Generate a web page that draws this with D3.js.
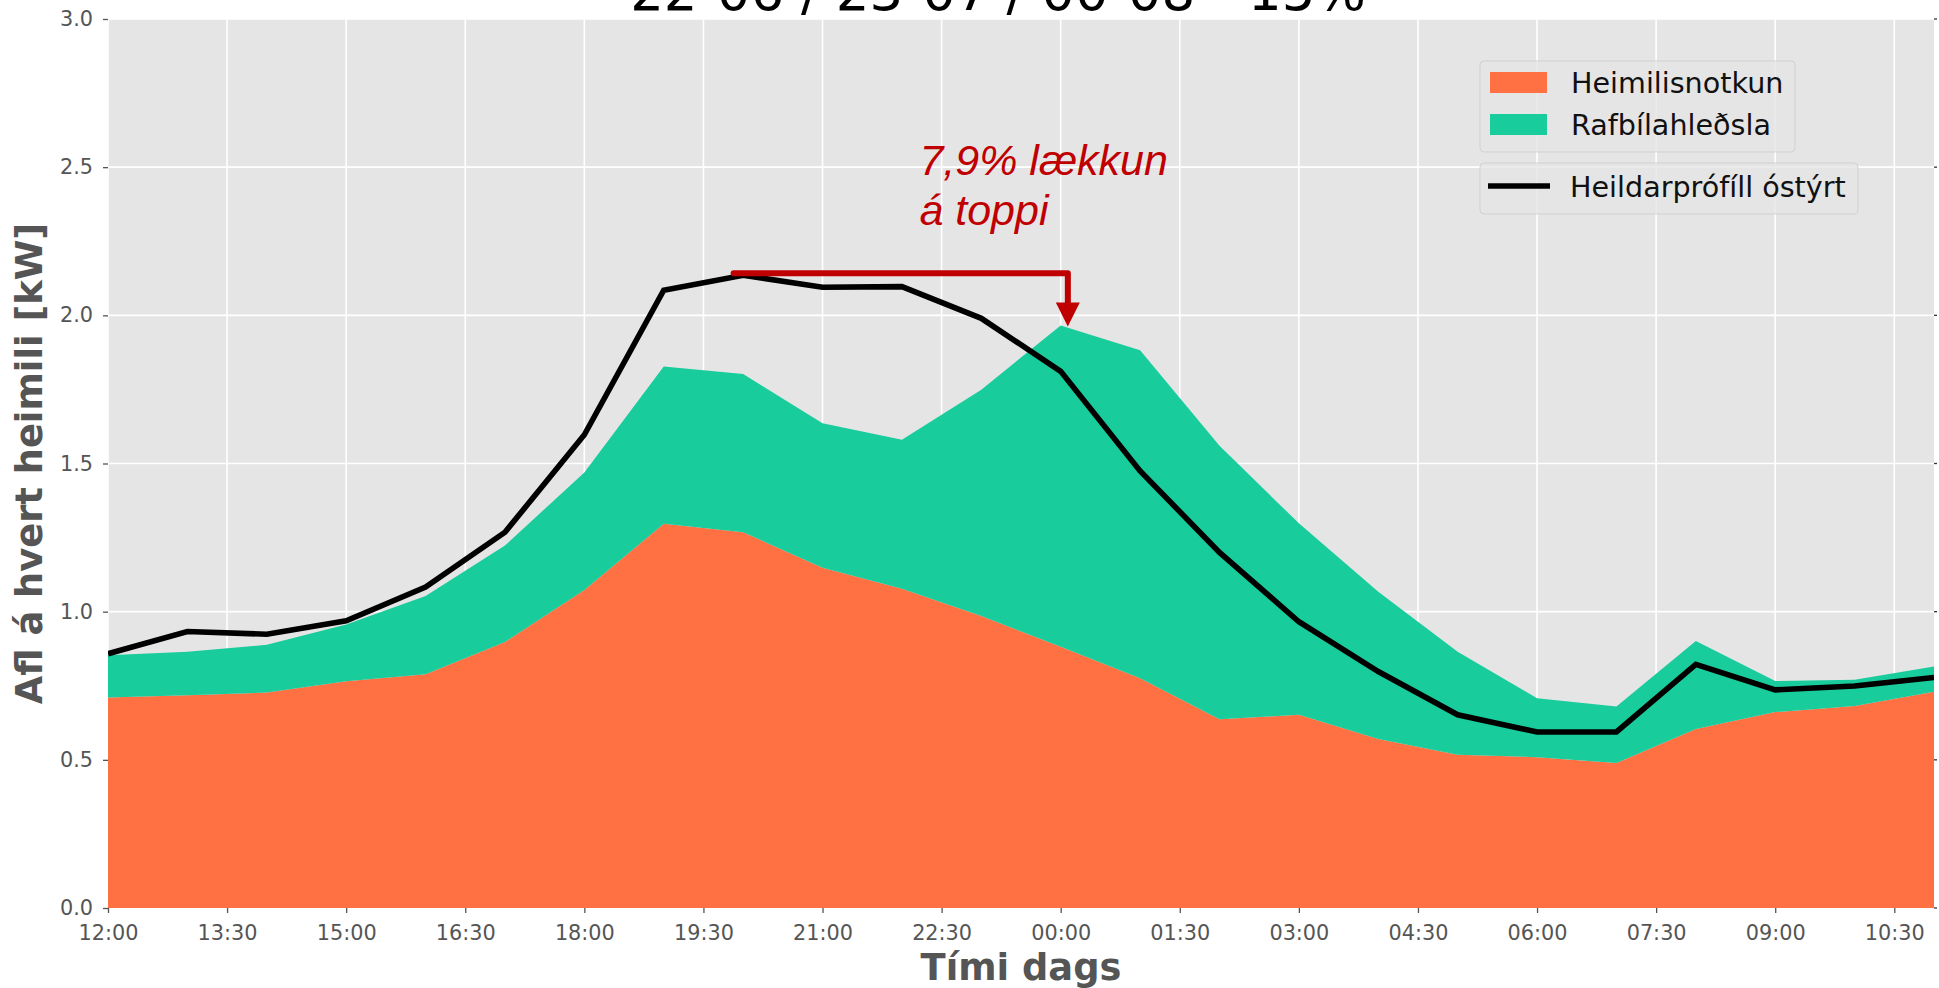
<!DOCTYPE html>
<html>
<head>
<meta charset="utf-8">
<script src="https://cdn.jsdelivr.net/npm/d3@7/dist/d3.min.js"></script>
<style>
  body { margin: 0; background: #fff; }
  text { font-family: "DejaVu Sans", sans-serif; }
</style>
</head>
<body>
<div id="chart"></div>
<script>
// hours after 12:00 (one point per hour)
var hours = [0, 1, 2, 3, 4, 5, 6, 7, 8, 9, 10, 11, 12, 13, 14, 15, 16, 17, 18, 19, 20, 21, 22, 23];

// household use [kW]
var heimilisnotkun = [0.710, 0.718, 0.727, 0.765, 0.789, 0.898, 1.073, 1.297, 1.268, 1.148, 1.077, 0.985,
                      0.882, 0.775, 0.637, 0.652, 0.570, 0.517, 0.509, 0.489, 0.604, 0.661, 0.682, 0.730];

// EV charging, stacked on top [kW]
var rafbilahledsla = [0.143, 0.147, 0.161, 0.192, 0.264, 0.325, 0.397, 0.530, 0.534, 0.488, 0.503, 0.764,
                      1.084, 1.107, 0.923, 0.646, 0.497, 0.348, 0.199, 0.191, 0.297, 0.105, 0.088, 0.085];

// total profile, uncontrolled [kW]
var heildarprofill = [0.858, 0.933, 0.924, 0.969, 1.083, 1.268, 1.597, 2.085, 2.135, 2.095, 2.097, 1.990,
                      1.811, 1.475, 1.200, 0.966, 0.798, 0.652, 0.594, 0.594, 0.822, 0.736, 0.749, 0.778];

var tickHours = [0, 1.5, 3, 4.5, 6, 7.5, 9, 10.5, 12, 13.5, 15, 16.5, 18, 19.5, 21, 22.5];
var tickLabels = ["12:00", "13:30", "15:00", "16:30", "18:00", "19:30", "21:00", "22:30",
                  "00:00", "01:30", "03:00", "04:30", "06:00", "07:30", "09:00", "10:30"];
var yTicks = [0, 0.5, 1, 1.5, 2, 2.5, 3];

var seriesNames = ["Heimilisnotkun", "Rafbílahleðsla"];
var lineName = "Heildarprófíll óstýrt";
var colors = ["#FF7043", "#18CC9C"];

// peak reduction annotation: start hour, end hour, level, arrow tip
var peakArrow = [7.88, 12.09, 2.142, 1.962];
var peakText = ["7,9% lækkun", "á toppi"];

var title = "22-06 / 23-07 / 00-08 - 15%";

// set the dimensions and margins of the graph
var margin = {top: 19, right: 5, bottom: 80, left: 108},
    width = 1939 - margin.left - margin.right,
    height = 988 - margin.top - margin.bottom;

var root = d3.select("#chart")
  .append("svg")
    .attr("width", 1939)
    .attr("height", 988);

var svg = root.append("g")
    .attr("transform", "translate(" + margin.left + "," + margin.top + ")");

var x = d3.scaleLinear().domain([0, 23]).range([0, width]);
var y = d3.scaleLinear().domain([0, 3]).range([height, 0]);

// background + grid
svg.append("rect")
  .attr("width", width)
  .attr("height", height)
  .attr("fill", "#E5E5E5");

svg.append("clipPath").attr("id", "clip")
  .append("rect").attr("width", width).attr("height", height);

svg.selectAll(".vgrid")
  .data(tickHours)
  .enter().append("line")
    .attr("x1", function(d) { return x(d); })
    .attr("x2", function(d) { return x(d); })
    .attr("y1", 0).attr("y2", height)
    .attr("stroke", "#fff").attr("stroke-width", 1.6);

svg.selectAll(".hgrid")
  .data(yTicks)
  .enter().append("line")
    .attr("x1", 0).attr("x2", width)
    .attr("y1", function(d) { return y(d); })
    .attr("y2", function(d) { return y(d); })
    .attr("stroke", "#fff").attr("stroke-width", 1.6);

// stacked areas
var table = hours.map(function(h, i) {
  return {hour: h, Heimilisnotkun: heimilisnotkun[i], "Rafbílahleðsla": rafbilahledsla[i]};
});
var stacked = d3.stack().keys(seriesNames)(table);

var area = d3.area()
  .x(function(d) { return x(d.data.hour); })
  .y0(function(d) { return y(d[0]); })
  .y1(function(d) { return y(d[1]); });

svg.append("g").attr("clip-path", "url(#clip)")
  .selectAll("path")
  .data(stacked)
  .enter().append("path")
    .attr("d", area)
    .attr("fill", function(d, i) { return colors[i]; });

// total line
var line = d3.line()
  .x(function(d, i) { return x(hours[i]); })
  .y(function(d) { return y(d); });

svg.append("path")
  .datum(heildarprofill)
  .attr("clip-path", "url(#clip)")
  .attr("d", line)
  .attr("fill", "none")
  .attr("stroke", "#000")
  .attr("stroke-width", 5.6)
  .attr("stroke-linejoin", "miter");

// axes
var xAxis = svg.append("g")
  .attr("transform", "translate(0," + height + ")")
  .call(d3.axisBottom(x).tickValues(tickHours)
        .tickFormat(function(d, i) { return tickLabels[i]; })
        .tickSize(5).tickPadding(12));
var yAxis = svg.append("g")
  .call(d3.axisLeft(y).tickValues(yTicks).tickFormat(d3.format(".1f"))
        .tickSize(5).tickPadding(10));

[xAxis, yAxis].forEach(function(a) {
  a.select(".domain").remove();
  a.selectAll("line").attr("stroke", "#555").attr("stroke-width", 1.3);
  a.selectAll("text")
    .attr("fill", "#555")
    .style("font-size", "20.8px")
    .style("font-family", "DejaVu Sans");
});

// small ticks on the right edge
svg.selectAll(".rtick")
  .data(yTicks)
  .enter().append("line")
    .attr("x1", width).attr("x2", width + 3)
    .attr("y1", function(d) { return y(d); })
    .attr("y2", function(d) { return y(d); })
    .attr("stroke", "#333").attr("stroke-width", 1.3);

// axis labels
root.append("text")
  .attr("x", margin.left + width / 2)
  .attr("y", 980)
  .attr("text-anchor", "middle")
  .attr("fill", "#555")
  .style("font-size", "36.8px")
  .style("font-weight", "bold")
  .text("Tími dags");

root.append("text")
  .attr("transform", "translate(42," + (margin.top + height / 2) + ")rotate(-90)")
  .attr("text-anchor", "middle")
  .attr("fill", "#555")
  .style("font-size", "36.8px")
  .style("font-weight", "bold")
  .text("Afl á hvert heimili [kW]");

// title (mostly above the page)
root.append("text")
  .attr("x", 998)
  .attr("y", 9.5)
  .attr("text-anchor", "middle")
  .attr("fill", "#000")
  .style("font-size", "53px")
  .text(title);

// peak annotation
var red = "#C00000";
var ax0 = x(peakArrow[0]), ax1 = x(peakArrow[1]), ay = y(peakArrow[2]), tipY = y(peakArrow[3]);
svg.append("path")
  .attr("d", "M" + ax0 + "," + ay + "H" + ax1 + "V" + (tipY - 22))
  .attr("fill", "none")
  .attr("stroke", red)
  .attr("stroke-width", 6)
  .attr("stroke-linecap", "round")
  .attr("stroke-linejoin", "round");
svg.append("path")
  .attr("d", "M" + (ax1 - 12) + "," + (tipY - 24) + "L" + (ax1 + 12) + "," + (tipY - 24) + "L" + ax1 + "," + tipY + "Z")
  .attr("fill", red);

svg.append("g")
  .selectAll("text")
  .data(peakText)
  .enter().append("text")
    .attr("x", x(10.22))
    .attr("y", function(d, i) { return y(2.474) + i * 50; })
    .attr("fill", red)
    .style("font-family", "Liberation Sans, Arial, sans-serif")
    .style("font-style", "italic")
    .style("font-size", "43px")
    .text(function(d) { return d; });

// legends
var legend1 = root.append("g");
legend1.append("rect")
  .attr("x", 1480).attr("y", 61).attr("width", 315).attr("height", 91)
  .attr("rx", 4)
  .attr("fill", "#E5E5E5").attr("fill-opacity", 0.8)
  .attr("stroke", "#cccccc").attr("stroke-opacity", 0.8);
var items = legend1.selectAll(".item")
  .data(seriesNames)
  .enter().append("g")
    .attr("transform", function(d, i) { return "translate(1490," + (72 + i * 42) + ")"; });
items.append("rect")
  .attr("width", 57).attr("height", 21)
  .attr("fill", function(d, i) { return colors[i]; });
items.append("text")
  .attr("x", 81).attr("y", 21)
  .attr("fill", "#111")
  .style("font-size", "28.6px")
  .text(function(d) { return d; });

var legend2 = root.append("g");
legend2.append("rect")
  .attr("x", 1480).attr("y", 163).attr("width", 378).attr("height", 51)
  .attr("rx", 4)
  .attr("fill", "#E5E5E5").attr("fill-opacity", 0.8)
  .attr("stroke", "#cccccc").attr("stroke-opacity", 0.8);
legend2.append("line")
  .attr("x1", 1488).attr("x2", 1550)
  .attr("y1", 186).attr("y2", 186)
  .attr("stroke", "#000").attr("stroke-width", 5.6);
legend2.append("text")
  .attr("x", 1570).attr("y", 197)
  .attr("fill", "#111")
  .style("font-size", "28.6px")
  .text(lineName);
</script>
</body>
</html>
